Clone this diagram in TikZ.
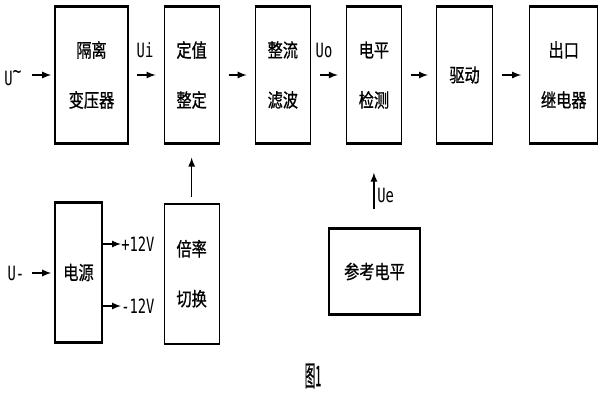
\documentclass[tikz,border=0pt]{standalone}
\usepackage{fontspec}
\usetikzlibrary{positioning}
\usetikzlibrary{arrows}
\newfontfamily\cjkfont{Noto Sans CJK SC}[FakeStretch=0.8, FakeBold=0.8]
\newfontfamily\latfont{DejaVu Sans Mono}[FakeStretch=0.7]
\tikzset{
        % Blocks of the signal chain
        block/.style={draw, line width=0.8pt, align=center, inner sep=0pt, minimum height=3.4cm, font=\cjkfont\fontsize{13.5}{35.5}\selectfont},
        % Blocks of the lower row
        block_low/.style={block, minimum height=3.475cm},
        % Signal labels
        sig/.style={inner sep=0pt, font=\latfont\fontsize{14}{16}\selectfont},
        % Connectors
        link/.style={->, >=latex, line width=1.2pt, shorten <=0.22cm, shorten >=0.2cm}
}
\begin{document}
\begin{tikzpicture}[x=0.025cm, y=-0.025cm]
    \useasboundingbox (0,0) rectangle (600,400);
    % upper chain
    \node[block, minimum width=1.825cm] (iso) at (91.5,75) {隔离\\变压器};
    \node[block, minimum width=1.375cm, right=0.875cm of iso] (set) {定值\\整定};
    \node[block, minimum width=1.375cm, right=0.875cm of set] (rect) {整流\\滤波};
    \node[block, minimum width=1.375cm, right=0.875cm of rect] (det) {电平\\检测};
    \node[block, minimum width=1.4cm, right=0.85cm of det] (drv) {驱动};
    \node[block, minimum width=1.7cm, right=0.9cm of drv] (rel) {出口\\继电器};
    % lower row
    \node[block_low, minimum width=1.175cm] (pwr) at (78.5,272.5) {电源};
    \node[block_low, minimum width=1.375cm, below=1.5cm of set] (rate) {倍率\\切换};
    \node[block, minimum width=2.275cm, minimum height=2.125cm] (ref) at (374.5,271.5) {参考电平};
    \foreach \b in {iso,set,rect,det,drv,rel,pwr,rate,ref}
        \draw[line width=1.5pt] (\b.north west) -- (\b.north east) (\b.south west) -- (\b.south east);
    % labels
    \node[sig] (uac) at (13,78) {U\raisebox{0.6ex}{\fontsize{15}{15}\selectfont\textasciitilde}};
    \node[sig] (ui) at (145,50) {Ui};
    \node[sig] (uo) at (324,50) {Uo};
    \node[sig] (udc) at (16,273) {U-};
    \coordinate (uacs) at (32,75);
    \coordinate (udcs) at (32,273);
    \coordinate (p12) at (121,244);
    \coordinate (m12) at (121,306);
    \node[sig, anchor=west] (lp12) at (p12) {+12V};
    \node[sig, anchor=west] (lm12) at (m12) {-12V};
    \node[sig, anchor=west] (ue) at (377,195) {Ue};
    \node[inner sep=0pt, font=\cjkfont\fontsize{13.5}{16}\selectfont] (fig) at (313,376) {\scalebox{0.7}[1.5]{图1}};
    % connectors
    \draw[link, shorten <=0pt, shorten >=0.08cm] (uacs) -- (iso.west |- uacs);
    \draw[link] (iso) -- (set);
    \draw[link] (set) -- (rect);
    \draw[link] (rect) -- (det);
    \draw[link] (det) -- (drv);
    \draw[link] (drv) -- (rel);
    \draw[link, shorten <=0pt, shorten >=0.08cm] (udcs) -- (pwr.west |- udcs);
    \draw[link, shorten <=0pt, shorten >=0pt] (pwr.east |- p12) -- (p12);
    \draw[link, shorten <=0pt, shorten >=0pt] (pwr.east |- m12) -- (m12);
    \draw[link, shorten <=0.175cm, shorten >=0.35cm] (rate) -- (set);
    \draw[link, shorten <=0.475cm, shorten >=0.725cm] (ref.north -| det.south) -- (det.south);
\end{tikzpicture}
\end{document}
